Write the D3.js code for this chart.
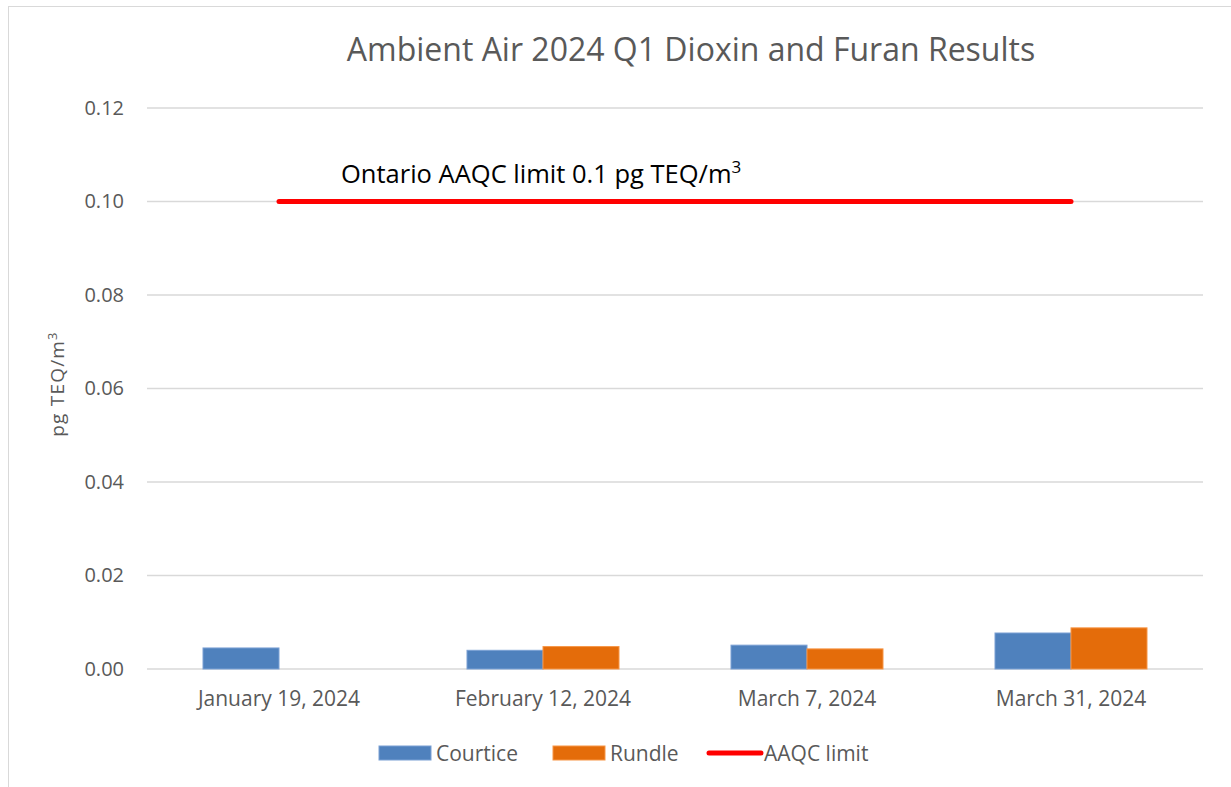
<!DOCTYPE html>
<html>
<head>
<meta charset="utf-8">
<script src="https://cdn.jsdelivr.net/npm/d3@7"></script>
<style>
  body { margin: 0; background: #fff; }
  text { font-family: "Open Sans", "Liberation Sans", sans-serif; }
</style>
</head>
<body>
<svg width="1231" height="787"></svg>
<script>
// данные графика
const dates = ["January 19, 2024", "February 12, 2024", "March 7, 2024", "March 31, 2024"];
const courtice = [0.0045, 0.0040, 0.0051, 0.0077];
const rundle = [null, 0.0048, 0.0043, 0.0088];
const aaqcLimit = [0.1, 0.1, 0.1, 0.1];
const yTicks = [0, 0.02, 0.04, 0.06, 0.08, 0.10, 0.12];
const seriesNames = ["Courtice", "Rundle"];

const colors = { Courtice: "#4f81bd", Rundle: "#e46c0a" };
const strokes = { Courtice: "#7aa0d4", Rundle: "#f79646" };

const svg = d3.select("svg");
const margin = { top: 108, right: 28, bottom: 118, left: 147 };
const width = 1231 - margin.left - margin.right;
const height = 787 - margin.top - margin.bottom;

// рамка диаграммы
svg.append("rect")
    .attr("x", 8.5).attr("y", 6.5)
    .attr("width", 1400).attr("height", 1000)
    .attr("fill", "none").attr("stroke", "#d9d9d9");

const g = svg.append("g").attr("transform", "translate(" + margin.left + "," + margin.top + ")");

const x = d3.scaleBand().domain(dates).range([0, width]);
const x1 = d3.scaleBand().domain(seriesNames).range([0, 152]);
const y = d3.scaleLinear().domain([0, 0.12]).range([height, 0]);

// сетка
g.append("g")
    .selectAll("line")
    .data(yTicks)
    .join("line")
    .attr("x1", 0).attr("x2", width)
    .attr("y1", d => y(d)).attr("y2", d => y(d))
    .attr("stroke", "#d9d9d9").attr("stroke-width", 1.5);

// ось Y
const yAxis = g.append("g")
    .call(d3.axisLeft(y).tickValues(yTicks).tickFormat(d3.format(".2f")).tickSize(0).tickPadding(23));
yAxis.select(".domain").remove();
yAxis.selectAll("text").attr("fill", "#595959").attr("font-size", 20);

// ось X
const xAxis = g.append("g")
    .attr("transform", "translate(0," + height + ")")
    .call(d3.axisBottom(x).tickSize(0).tickPadding(22));
xAxis.select(".domain").remove();
xAxis.selectAll("text").attr("fill", "#595959").attr("font-size", 21);

// столбцы
const rows = dates.map((d, i) => ({ date: d, Courtice: courtice[i], Rundle: rundle[i] }));
g.append("g")
    .selectAll("g")
    .data(rows)
    .join("g")
    .attr("transform", d => "translate(" + (x(d.date) + x.bandwidth() / 2 - 76) + ",0)")
    .selectAll("rect")
    .data(d => seriesNames.map(s => ({ key: s, value: d[s] })).filter(v => v.value != null))
    .join("rect")
    .attr("x", d => x1(d.key))
    .attr("width", x1.bandwidth())
    .attr("y", d => y(d.value))
    .attr("height", d => y(0) - y(d.value))
    .attr("fill", d => colors[d.key])
    .attr("stroke", d => strokes[d.key])
    .attr("stroke-width", 1);

// линия предела AAQC
const line = d3.line()
    .x((d, i) => x(dates[i]) + x.bandwidth() / 2)
    .y(d => y(d));
g.append("path")
    .datum(aaqcLimit)
    .attr("d", line)
    .attr("fill", "none")
    .attr("stroke", "#ff0000")
    .attr("stroke-width", 5)
    .attr("stroke-linecap", "round");

// подпись предела
const note = g.append("text")
    .attr("x", x(dates[0]) + x.bandwidth() / 2 + 62)
    .attr("y", y(0.1) - 19)
    .attr("font-size", 25.5)
    .attr("fill", "#000");
note.append("tspan").text("Ontario AAQC limit 0.1 pg TEQ/m");
note.append("tspan").attr("dy", -10).attr("font-size", 17).text("3");

// заголовок
svg.append("text")
    .attr("x", 691).attr("y", 61)
    .attr("text-anchor", "middle")
    .attr("font-size", 32)
    .attr("fill", "#595959")
    .text("Ambient Air 2024 Q1 Dioxin and Furan Results");

// подпись оси Y
const yTitle = svg.append("text")
    .attr("transform", "translate(64,384) rotate(-90)")
    .attr("text-anchor", "middle")
    .attr("font-size", 19)
    .attr("letter-spacing", 1.2)
    .attr("fill", "#595959");
yTitle.append("tspan").text("pg TEQ/m");
yTitle.append("tspan").attr("dy", -7).attr("font-size", 13).text("3");

// легенда
const legend = svg.append("g").attr("transform", "translate(0,753)");
const legendItems = [
    { name: "Courtice", type: "rect", x: 379 },
    { name: "Rundle", type: "rect", x: 553 },
    { name: "AAQC limit", type: "line", x: 707 }
];
legendItems.forEach(item => {
    if (item.type === "rect") {
        legend.append("rect")
            .attr("x", item.x).attr("y", -7)
            .attr("width", 52).attr("height", 14)
            .attr("fill", colors[item.name])
            .attr("stroke", strokes[item.name]);
    } else {
        legend.append("line")
            .attr("x1", item.x + 2).attr("x2", item.x + 54)
            .attr("stroke", "#ff0000").attr("stroke-width", 5)
            .attr("stroke-linecap", "round");
    }
    legend.append("text")
        .attr("x", item.x + 57).attr("y", 7.5)
        .attr("font-size", 21)
        .attr("fill", "#595959")
        .text(item.name);
});
</script>
</body>
</html>
